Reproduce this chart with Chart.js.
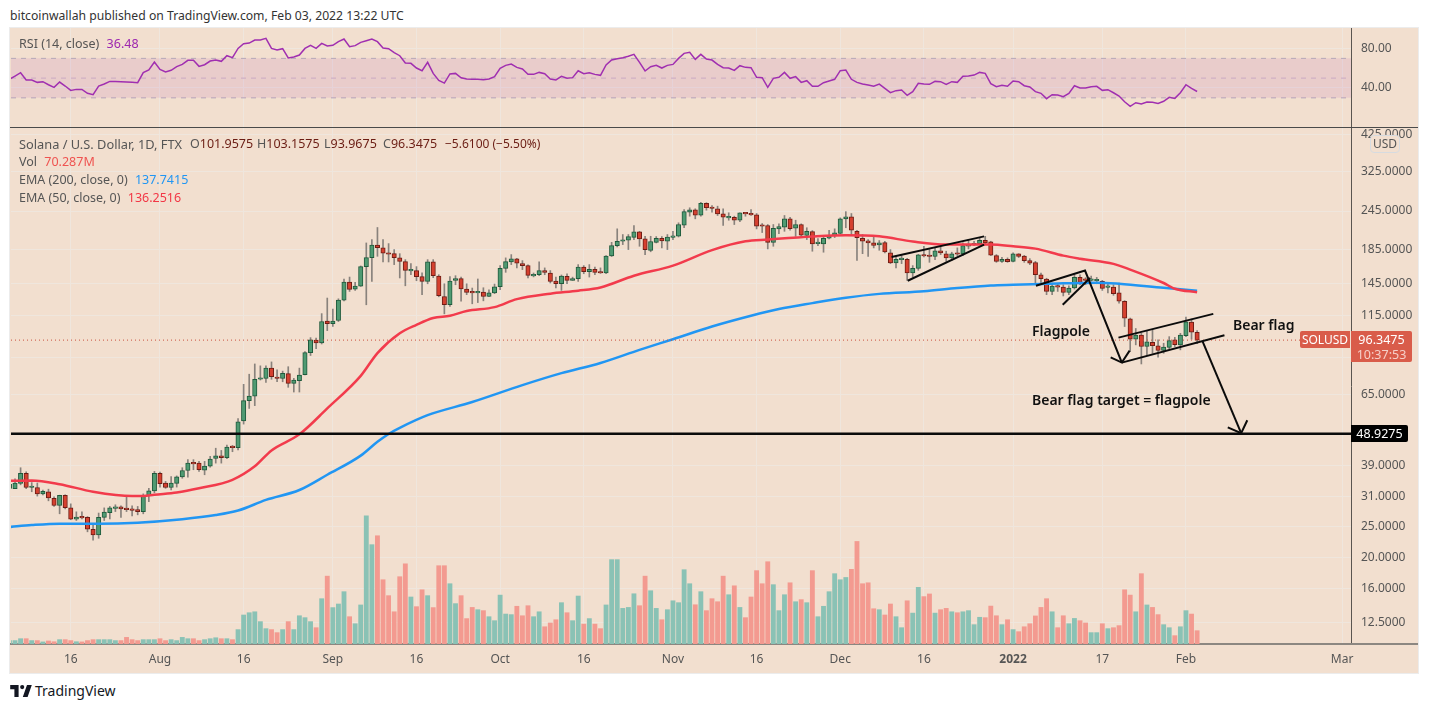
<!DOCTYPE html>
<html>
<head>
<meta charset="utf-8">
<title>SOLUSD</title>
<script src="https://cdn.jsdelivr.net/npm/chart.js@4/dist/chart.umd.js"></script>
<style>
  body { margin: 0; background: #fff; font-family: "Noto Sans", sans-serif; width: 1429px; height: 710px; overflow: hidden; position: relative; }
  #panel { position: absolute; left: 10px; top: 28px; width: 1408px; height: 645px; background: #f2dfcf; box-shadow: 0 0 0 1px #ececec; }
  canvas { position: absolute; left: 10px; }
  .t { position: absolute; white-space: nowrap; font-size: 12.5px; line-height: 16px; color: #555; }
  .v { color: #6b1d14; }
  .note { position: absolute; white-space: nowrap; font-size: 14px; line-height: 18px; font-weight: 600; color: #111; }
  .tag { position: absolute; color: #fff; background: #d95c4a; font-size: 12.5px; text-align: center; }
</style>
</head>
<body>
<div class="t" style="left:10px;top:8px;font-size:12.2px;color:#333">bitcoinwallah published on TradingView.com, Feb 03, 2022 13:22 UTC</div>
<div id="panel"></div>
<canvas id="rsiChart" width="1408" height="99" style="top:28px"></canvas>
<canvas id="mainChart" width="1408" height="546" style="top:127px"></canvas>
<div style="position:absolute;left:10px;top:127px;width:1408px;height:1px;background:#4a4a4a"></div>
<div style="position:absolute;left:1351px;top:643px;width:67px;height:2px;background:#8c8781"></div>

<div class="t" style="left:19px;top:36px">RSI (14, close) <span style="color:#9c27b0;margin-left:4px">36.48</span></div>
<div class="t" style="left:19px;top:136px;font-size:12.8px">Solana / U.S. Dollar, 1D, FTX</div>
<div class="t" style="left:190px;top:136px">O<span class="v">101.9575</span></div>
<div class="t" style="left:257px;top:136px">H<span class="v">103.1575</span></div>
<div class="t" style="left:324px;top:136px">L<span class="v">93.9675</span></div>
<div class="t" style="left:383px;top:136px">C<span class="v">96.3475</span></div>
<div class="t v" style="left:445px;top:136px;font-size:12px">−5.6100 (−5.50%)</div>
<div class="t" style="left:19px;top:154px">Vol <span style="color:#ef5350;margin-left:4px">70.287M</span></div>
<div class="t" style="left:19px;top:172px">EMA (200, close, 0) <span style="color:#2196f3;margin-left:4px">137.7415</span></div>
<div class="t" style="left:19px;top:190px">EMA (50, close, 0) <span style="color:#f23645;margin-left:4px">136.2516</span></div>

<div class="note" style="left:1032px;top:322px">Flagpole</div>
<div class="note" style="left:1233px;top:316px">Bear flag</div>
<div class="note" style="left:1032px;top:391px">Bear flag target = flagpole</div>

<div class="t" style="left:1370px;top:135px;width:28px;height:16px;border:1px solid #d6dbe0;border-radius:4px;background:#f2dfcf;text-align:center;font-size:12px">USD</div>
<div class="tag" style="left:1300px;top:331px;width:50px;height:17px;line-height:17px;border-radius:2px 0 0 2px;font-size:12px">SOLUSD</div>
<div class="tag" style="left:1351px;top:331px;width:61px;height:30px;border-radius:0 2px 2px 0;line-height:15px;padding-top:1px">96.3475<br><span style="color:#f6cfc8">10:37:53</span></div>
<div class="tag" style="left:1351px;top:425px;width:57px;height:17px;line-height:17px;background:#000;border-radius:0 2px 2px 0">48.9275</div>

<svg style="position:absolute;left:10px;top:685px" width="22" height="12" viewBox="0 0 36 20">
  <path fill="#131722" d="M14 0H0v7h7v13h7V0zM29 20h-8l7-20h8l-7 20zM20 7a3.5 3.5 0 1 0 0-7 3.5 3.5 0 0 0 0 7z"/>
</svg>
<div class="t" style="left:35px;top:682px;font-size:14px;line-height:18px;color:#131722">TradingView</div>

<script>
// day numbers: 0 = Jul 6 2021, the first array entry is the day before
const firstDay = -1;

const opens = [33,
  32.95,34.2,36.8,33.2,33.2,31.7,32.2,30.7,29.15,31.4,
  28.65,26.4,26.85,26.75,24.55,23.55,26.75,27.7,28.55,28.85,
  28.45,28.3,28.3,27.9,31.3,32.4,36.8,34.3,33.2,34.2,
  35.85,37.55,39.6,39.6,37.65,38.75,41,41.75,41.2,44.8,
  44.25,53.75,62.2,64.2,72.6,73,78.7,73.8,73,75.6,
  70.5,71.9,75,88,96.3,94.4,110.6,108.5,111,128.7,
  146.6,139.2,142.4,164,175,191.7,187.6,180,180,174.6,
  170,159,159.3,152.4,147.3,169.6,153.2,132.1,124.4,148.4,
  150.3,139.4,136,135.6,136.3,132.1,135.6,141.7,161.9,169.6,
  173.3,167.5,165.1,153.3,154.6,159.3,156.5,147.7,144.8,152.8,
  148.4,150.3,163.5,158.1,160.7,157.2,156.5,177.2,190.8,196.9,
  198.3,202.6,210.8,200.3,184.4,195.4,201.2,196.9,202.6,204.1,
  221.1,242.9,247.2,237.7,258.8,250.8,249,240,233.2,234.2,
  229.2,241.2,239.4,238.4,220.6,220.6,195.4,215.3,217.9,231.6,
  216.4,222.2,205.2,211.2,193.6,193.2,201.2,204.6,208.2,231.6,
  235,211.6,201.2,197.5,194.5,191.8,195,181,168.4,172.4,
  172.8,156.5,161.9,178,177,176.3,183.8,179.7,174.6,179.7,
  179.7,190,191.8,193.6,198.3,196.1,177.5,170.3,172.8,170.3,
  179.7,177,171.1,168.7,154.6,149.9,137,142,141.3,136,
  140.4,151.6,148.7,148.4,148,147.3,141,141.3,135.6,127.6,
  112.4,97.1,99.9,92,94.8,92.5,89.4,91.4,96.5,93.1,
  99.5,109.7,101.9575];
const highs = [34.2,
  35.35,38.3,37.2,34.4,34.3,32.6,32.8,31.05,31.4,31.5,
  29.5,27.85,27.85,26.9,25.35,27.6,28.65,28.95,29.3,29.1,
  31.2,29.1,28.95,31.7,33,37.3,37.1,34.7,35.95,36.1,
  38.3,40.6,40.6,40.1,40.1,41.6,44.1,43.4,45.1,45,
  54.65,70,75.3,81.1,80,80,82.3,77.7,77,79.5,
  73.1,78.7,88.7,98.1,97.8,116.7,130.6,120.6,129.9,149.9,
  152,146.2,164.7,194.5,199.3,217.5,199.3,193.6,185.4,180,
  172.4,167.5,163.9,156.8,172.4,172.4,154.6,144.8,152.4,153.5,
  151.9,144.8,140.4,149.9,140.7,138.7,144.5,165.1,174.6,178.8,
  173.9,171.2,166,156.5,169.6,162.4,159.3,152,154.3,155.7,
  151.9,166.3,165.1,166.3,163.5,162.4,177.5,195.4,215.4,206.7,
  206.7,220.6,211.6,204.1,204.1,203.7,203.7,206.7,211.6,225,
  247.7,250.8,249,261.1,260.2,255,253.7,249,241.9,236,
  241.9,241.9,247.7,240.6,223.8,222.2,222.2,223.3,237.2,234.2,
  229.2,223.3,217.1,212.7,200.7,205.2,213.2,215.4,233.2,243.9,
  240.6,213.2,206.7,199.3,204,197.9,196.9,185.4,176.3,177.5,
  173.9,165.1,179.2,189.8,185.4,187.7,189.9,183.2,181.9,187.7,
  194.5,199.3,196.9,201.7,204,196.9,178.8,175.4,174.6,181,
  180,177.8,173.6,170.3,156.5,150.7,145.6,144.8,143.8,142.7,
  154.6,154.6,151.3,153,151.6,148.4,146.2,143.8,145.6,128.2,
  113,104.8,101.2,102.6,104,96.5,94.2,98.8,98.3,101.2,
  113.8,112.2,103.1575];
const lows = [32.8,
  32.9,33.85,32.9,32.2,31.2,31.45,30.15,28.95,27.45,28.45,
  26.3,26.15,26.45,24.1,22.7,23,26.15,26.45,27.9,26.75,
  27.9,27.05,27.25,27.45,29.95,31.95,33.3,33,32.6,33.3,
  35.5,35.75,37.75,37.3,36.4,38.45,39.6,39.6,40.9,43,
  43.6,52.5,58.8,60,72.2,71,72.6,71.3,71.3,68.5,
  66.2,66.2,74.9,86.2,90.6,93.7,103.2,106.3,110.2,128,
  137,138,142,124.4,147.3,176.6,169.5,169.5,166.3,151,
  142.7,154.6,148,133.8,144.8,151.3,131.8,116.5,122.9,143.8,
  127.6,133.8,125.3,126.4,128,131.8,134.8,138.7,157.3,166.3,
  162.4,160.4,151,152.2,153.5,154.6,145.6,140.4,138,144.8,
  148.4,147.3,155.7,152,154.6,156,155.7,176.3,189,192.2,
  185.4,199.3,189.9,178.8,182.5,194.5,187.7,185.4,199.3,203.1,
  217.1,236,231.6,236,246.5,243,237.2,220.6,229.2,222.2,
  227,236,237.2,215.3,209.7,186.3,189.9,208,211.6,213.2,
  204,203.1,199.3,183.2,190.8,181.9,200.3,202.2,208,217.1,
  206.7,171.5,180,176.3,187.7,184.5,181,167.5,162.4,167.5,
  148.4,152,159.6,175.8,169.1,172.4,178.8,170.3,171.5,177.5,
  177.5,186.3,190.8,192.2,192.2,177.5,169.1,169.1,169.1,169.6,
  175,169.1,166.3,145.6,145.6,133.8,133.8,137,132.6,133.8,
  139.4,143.8,143.8,147.6,144.8,138,135.6,133.2,125.9,106.3,
  88.7,93.1,81.1,86.6,87.6,85.2,87.6,90.5,92,89.8,
  98.8,97,93.9675];
const closes = [34,
  34.3,36.8,33.2,33.3,31.7,32.3,30.8,29.15,31.4,28.7,
  26.4,26.8,26.65,24.55,23.55,26.75,27.8,28.65,28.85,28.45,
  28.3,28.15,27.9,31.4,32.4,36.8,34.15,33.2,34.3,35.85,
  37.55,39.6,39.4,37.75,38.75,40.8,41.75,41.2,44.5,44.3,
  53.35,62.2,64.3,72.6,73.3,78.7,74,73,75.8,70.5,
  72.2,74.9,88,96.5,94.4,110.2,108.5,110.6,128.7,146.6,
  139,142.4,164,175,191.7,188,180.5,179.2,175,170.3,
  159.6,160.4,152.4,147.3,169.6,153.5,132.8,124.4,147.7,150.3,
  139.4,136,135.6,136,132.1,135.6,141.7,161.9,170,173.3,
  168,165.1,153.8,153.8,159.3,157.2,147.3,144.8,153.2,148.4,
  150.3,163.5,158.1,160.7,157.2,156.5,177,190.8,196.9,197.9,
  203.7,210.8,200.3,185.4,196.5,201.2,197.5,203.1,204.6,222.2,
  243.9,247.2,237.7,258.8,250.8,249.5,240,234.2,234.2,229.2,
  241.9,240,238.4,219.4,219.4,195.4,216,219,231.6,215.8,
  222.2,205.6,211.6,193.2,194.1,201.2,204.6,209.2,231.6,235,
  213.2,202.2,197,194.5,191.2,194.5,182.4,168.4,172.8,172.8,
  156.5,161.9,178.4,177,176.3,183.8,181,174.6,179.7,179.2,
  190.8,192.2,193.6,198.3,194.5,178,170.3,172.8,170,179.7,
  176.3,171.1,168,154.6,150.3,137,142.4,141.3,136,140.4,
  151.6,146.2,148.4,148.7,148.6,139.9,141.7,134.8,127.6,113,
  97.1,100,92,95.2,92.5,89.4,91.6,96,93.3,99.9,
  110,102,96.3475];
// volume in millions
const volumes = [18,
  18,28,28,18,18,11,16,12,23,23,
  18,12,11,18,23,23,23,23,18,18,
  35,23,18,23,23,23,28,18,23,18,
  35,28,28,18,23,28,33,28,28,23,
  76,153,165,170,118,81,76,60,76,118,
  76,149,139,118,86,239,358,192,211,276,
  144,107,206,676,524,571,339,255,170,355,
  423,248,197,286,255,192,413,413,318,213,
  255,134,193,181,176,144,123,258,158,155,
  199,149,202,144,170,91,111,128,218,165,
  123,253,105,134,105,81,206,445,445,188,
  193,265,202,358,281,188,128,181,228,218,
  392,318,207,276,176,239,223,358,260,307,
  193,139,248,387,318,434,313,176,260,323,
  223,234,218,387,144,199,276,371,339,351,
  394,541,318,323,186,181,153,211,144,86,
  228,163,299,250,264,163,181,188,170,165,
  170,176,102,141,139,200,149,102,128,76,
  65,91,107,148,193,239,170,86,149,107,
  135,123,111,60,60,107,81,86,97,286,
  258,170,371,206,193,155,102,86,44,91,
  176,158,70.287];
const rsiValues = [48.8,
  52.1,55.5,48.1,48.1,45.7,46.4,43.3,40.6,46,42,
  37.6,38.6,38.6,34.6,33.2,42,44,46.7,46.7,46.4,
  46,45.7,45.4,55.5,58.2,66.3,58.9,56.2,57.9,61.6,
  63.9,68,68,61.9,63.6,67.3,68.3,67,72.7,70.7,
  80.1,84.9,85.5,88.6,88.6,90.3,80.1,78.5,79.8,70.4,
  71.4,73.4,80.1,83.2,80.1,85.2,82.5,83.2,86.9,89.6,
  81.8,82.9,86.2,87.9,89.6,86.9,80.5,79.8,75.8,72.7,
  65.3,65,60.2,57.5,66,54.8,47.7,45,54.2,54.8,
  50.4,49.1,48.8,48.8,48.4,49.1,51.5,59.9,62.9,64.3,
  60.9,59.2,53.8,53.8,55.8,54.5,49.1,48.1,51.8,49.8,
  50.5,57.5,54.5,55.5,53.8,52.8,63.3,68.3,69.7,70.7,
  72.1,74.1,66,57.2,61.6,62.9,60.2,62.9,63.9,70,
  75.1,76.1,69,74.1,69.4,68.3,63.9,60.6,60.2,57.9,
  62.6,60.9,60.6,50.8,50.5,40.7,49.8,50.8,55.8,49.8,
  51.5,45.7,47.4,41.7,41.7,45.4,47.1,48.8,57.5,58.2,
  48.8,45.7,44,43,41.7,44,39.6,35.3,37.3,38,
  32.6,36.3,44.7,44,43.7,46.7,46.4,43.7,46.4,45.7,
  51.8,52.1,53.1,55.8,54.8,44.4,41.3,42.7,41.7,47.1,
  46.4,42.3,41,36.3,34.6,29.2,33.2,32.9,31.2,34.6,
  42.3,40,40,41.3,41.7,37.6,38.3,35.2,31.9,26.1,
  21.4,25.1,23.8,25.8,25.5,24.4,26.5,30.5,29.5,35.2,
  43.3,39.6,36.48];

const ema50Days = [-1,3,8,14,21,23,25,29,33,39,43,46,51,56,62,65,69,72,75,78,81,86,90,96,101,105,111,118,125,131,135,143,149,155,161,167,175,179,183,188,191,197,200,206,208,212];
const ema50Values = [34.85,34.9,34,32.2,31.2,31.2,31.5,32,33,35.1,38.7,43.4,48.75,58.8,74.4,87.7,101.2,107.6,113,114.9,118.9,122.3,129.6,134.8,137.7,141,153.5,165.1,184.7,196.9,199.3,203.7,205.6,204,196.5,192.2,192.2,189.9,186.7,177.5,173.6,167.2,160.4,145.6,139.7,136.25];
const ema200Days = [-1,3,8,15,22,30,36,40,45,51,56,62,65,67,69,74,82,91,98,105,112,118,125,132,137,143,149,155,163,169,175,179,185,194,198,206,212];
const ema200Values = [24.95,25.3,25.55,25.55,25.75,26.4,27.2,28.1,30.35,32.6,36.4,41.8,46.2,48.9,51.1,56,61.6,69.6,75.9,81.7,89.8,97,106.3,114.9,120.6,125.9,130.9,134.6,137.2,140.5,143.1,143.8,144.7,146,144.8,140.6,137.74];

const tickDays = [10,26,41,57,72,87,102,118,133,148,163,179,195,210,238];
const tickLabels = ['16','Aug','16','Sep','16','Oct','16','Nov','16','Dec','16','2022','17','Feb','Mar'];
const priceTicks = [425,325,245,185,145,115,85,65,39,31,25,20,16,12.5];
const rsiTicks = [80,40];
const rsiBands = [70,50,30];
const lastPrice = 96.3475;
const supportPrice = 48.9275;

// hand drawn lines on the chart, as [day, price] pairs
const drawings = [
  [[157.2,175.8],[173.8,204]],
  [[160.1,148],[173.8,192.2]],
  [[183.1,142.7],[191.9,159.3],[198.5,81.9]],
  [[187.9,124.4],[192.8,150.9]],
  [[196.5,85.1],[198.5,81.9],[199.9,89.3]],
  [[197.9,98.1],[214.9,116.5]],
  [[198.5,81.9],[216.9,99.8]],
  [[213,95.3],[219.9,49.2]],
  [[217.5,51.3],[219.9,49.2],[221,54]]
];

const xMin = -0.72;
const xMax = 239.6;
const axisFont = { family: '"Noto Sans", sans-serif', size: 12 };
const gridColor = '#efe6dd';
const axisColor = '#5a5550';

const isUp = i => closes[i] >= opens[i];
const dayOf = i => i + firstDay;

// keep the plot area exactly where it should be, labels may hang over it
function dropPadding(scale) {
  scale.paddingTop = 0;
  scale.paddingBottom = 0;
  scale.paddingLeft = 0;
  scale.paddingRight = 0;
}

function xAxis(showLabels) {
  return {
    type: 'linear',
    min: xMin,
    max: xMax,
    offset: false,
    afterBuildTicks: scale => { scale.ticks = tickDays.map(value => ({ value })); },
    afterFit: scale => { scale.height = showLabels ? 29 : 0; dropPadding(scale); },
    grid: { color: gridColor, lineWidth: 1, drawTicks: false, offset: false },
    border: showLabels ? { color: '#8c8781', width: 2 } : { display: false },
    ticks: {
      display: showLabels,
      autoSkip: false,
      maxRotation: 0,
      padding: 8,
      color: '#555',
      font: ctx => ({ ...axisFont, weight: ctx.tick && ctx.tick.label === '2022' ? 'bold' : 'normal' }),
      callback: value => tickLabels[tickDays.indexOf(value)]
    }
  };
}

function yTicks(values, digits) {
  return {
    afterBuildTicks: scale => { scale.ticks = values.map(value => ({ value })); },
    afterFit: scale => { scale.width = 67; dropPadding(scale); },
    position: 'right',
    grid: { color: gridColor, lineWidth: 1, drawTicks: false },
    border: { color: axisColor },
    ticks: { autoSkip: false, padding: 10, color: '#555', font: axisFont, callback: value => Number(value).toFixed(digits) }
  };
}

function flatLine(value) {
  return [{ x: xMin, y: value }, { x: xMax, y: value }];
}

const baseOptions = {
  responsive: false,
  animation: false,
  events: [],
  plugins: { legend: { display: false }, tooltip: { enabled: false } }
};

// RSI panel
new Chart(document.getElementById('rsiChart'), {
  type: 'line',
  data: {
    datasets: [
      {
        data: rsiValues.map((y, i) => ({ x: dayOf(i), y })),
        borderColor: '#a02fb0',
        borderWidth: 1.5,
        pointRadius: 0,
        order: 1
      },
      {
        data: flatLine(rsiBands[0]),
        borderColor: '#b5a8b8',
        borderWidth: 1,
        borderDash: [5, 5],
        pointRadius: 0,
        fill: { target: 2 },
        backgroundColor: 'rgba(156,39,176,0.1)',
        order: 2
      },
      {
        data: flatLine(rsiBands[2]),
        borderColor: '#b5a8b8',
        borderWidth: 1,
        borderDash: [5, 5],
        pointRadius: 0,
        order: 2
      },
      {
        data: flatLine(rsiBands[1]),
        borderColor: '#cdb9c4',
        borderWidth: 1,
        borderDash: [5, 5],
        pointRadius: 0,
        order: 2
      }
    ]
  },
  options: {
    ...baseOptions,
    layout: { padding: { left: 1 } },
    scales: {
      x: xAxis(false),
      y: { ...yTicks(rsiTicks, 2), min: 0.5, max: 100.76 }
    }
  }
});

// price and volume panel
const wickData = lows.map((low, i) => ({ x: dayOf(i), y: [low, highs[i]] }));
const bodyData = opens.map((open, i) => ({ x: dayOf(i), y: [open, closes[i]] }));
const volumeData = volumes.map((y, i) => ({ x: dayOf(i), y }));

const drawingSets = drawings.map(points => ({
  type: 'line',
  data: points.map(([x, y]) => ({ x, y })),
  borderColor: '#0b0b0b',
  borderWidth: 2,
  pointRadius: 0,
  yAxisID: 'y',
  order: 0
}));

new Chart(document.getElementById('mainChart'), {
  data: {
    datasets: [
      {
        type: 'bar',
        data: volumeData,
        yAxisID: 'yVolume',
        grouped: false,
        barPercentage: 1,
        categoryPercentage: 1,
        maxBarThickness: 4.2,
        backgroundColor: volumes.map((v, i) => isUp(i) ? '#8ac2b5' : '#f39a90'),
        order: 6
      },
      {
        type: 'bar',
        data: wickData,
        yAxisID: 'y',
        grouped: false,
        barPercentage: 1,
        categoryPercentage: 1,
        maxBarThickness: 1,
        backgroundColor: 'rgba(80,80,80,0.65)',
        order: 5
      },
      {
        type: 'bar',
        data: bodyData,
        yAxisID: 'y',
        grouped: false,
        barPercentage: 1,
        categoryPercentage: 1,
        maxBarThickness: 4.4,
        minBarLength: 1.5,
        borderWidth: 1,
        borderSkipped: false,
        backgroundColor: opens.map((o, i) => isUp(i) ? '#4f9a72' : '#d5402f'),
        borderColor: opens.map((o, i) => isUp(i) ? '#1f5a3c' : '#6e1c14'),
        order: 4
      },
      {
        type: 'line',
        data: ema200Days.map((x, i) => ({ x, y: ema200Values[i] })),
        yAxisID: 'y',
        borderColor: '#2196f3',
        borderWidth: 2.5,
        pointRadius: 0,
        cubicInterpolationMode: 'monotone',
        order: 3
      },
      {
        type: 'line',
        data: ema50Days.map((x, i) => ({ x, y: ema50Values[i] })),
        yAxisID: 'y',
        borderColor: '#f23b4c',
        borderWidth: 2.5,
        pointRadius: 0,
        cubicInterpolationMode: 'monotone',
        order: 2
      },
      {
        type: 'line',
        data: flatLine(lastPrice),
        yAxisID: 'y',
        borderColor: '#c9503e',
        borderWidth: 1,
        borderDash: [1, 3],
        pointRadius: 0,
        order: 1
      },
      {
        type: 'line',
        data: flatLine(supportPrice),
        yAxisID: 'y',
        borderColor: '#0b0b0b',
        borderWidth: 2.5,
        pointRadius: 0,
        order: 0
      },
      ...drawingSets
    ]
  },
  options: {
    ...baseOptions,
    layout: { padding: { left: 1, top: 1 } },
    scales: {
      x: xAxis(true),
      y: { ...yTicks(priceTicks, 4), type: 'logarithmic', min: 10.71, max: 446.5 },
      yVolume: { type: 'linear', display: false, min: 0, max: 2722 }
    }
  }
});
</script>
</body>
</html>
